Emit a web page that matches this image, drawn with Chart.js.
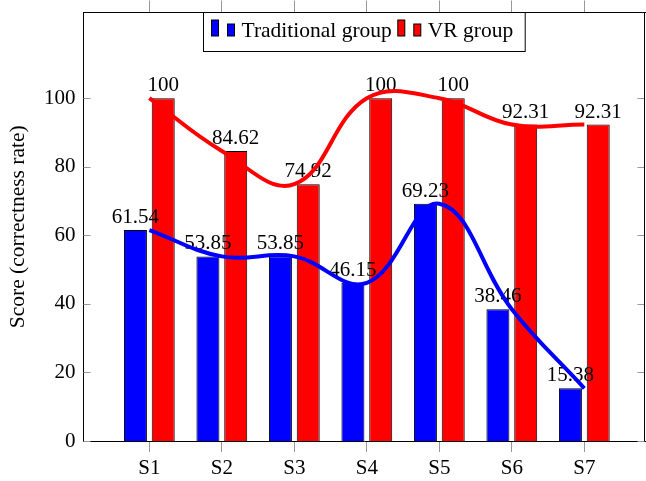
<!DOCTYPE html>
<html>
<head>
<meta charset="utf-8">
<script src="https://cdn.jsdelivr.net/npm/chart.js@4"></script>
<style>
  html, body { margin: 0; padding: 0; background: #fff; }
</style>
</head>
<body>
<canvas id="scoreChart" width="646" height="481"></canvas>
<script>
// data
const subjects = ['S1', 'S2', 'S3', 'S4', 'S5', 'S6', 'S7'];
const traditional = [61.54, 53.85, 53.85, 46.15, 69.23, 38.46, 15.38];
const vrGroup = [100, 84.62, 74.92, 100, 100, 92.31, 92.31];
const yTicks = [0, 20, 40, 60, 80, 100];
const seriesNames = ['Traditional group', 'VR group'];

const BLUE = 'rgb(0,0,255)';
const RED = 'rgb(255,0,0)';
const FONT = '"Liberation Serif", "Times New Roman", serif';
const X_MIN = 0.092, X_MAX = 7.837;

function toPoints(vals) {
    return vals.map((v, i) => ({ x: i + 1, y: v }));
}

function categoryTicks(scale) {
    scale.ticks = subjects.map((s, i) => ({ value: i + 1 }));
}

// fixed axis sizes, no extra label padding
function fixSize(w, h) {
    return s => {
        if (w !== null) s.width = w;
        if (h !== null) s.height = h;
        s.paddingTop = s.paddingBottom = s.paddingLeft = s.paddingRight = 0;
    };
}

// numbers over the bars (drawn before the curves so the curves sit on top)
function drawValueLabels(chart) {
    const ctx = chart.ctx;
    ctx.save();
    ctx.font = '21px ' + FONT;
    ctx.fillStyle = '#000';
    ctx.textAlign = 'center';
    ctx.textBaseline = 'alphabetic';
    [0, 1].forEach(di => {
        const meta = chart.getDatasetMeta(di);
        const vals = chart.data.datasets[di].data;
        meta.data.forEach((bar, j) => {
            ctx.fillText(String(vals[j].y), bar.x, bar.y - 7);
        });
    });
    ctx.restore();
}

// right frame line + inward y ticks on both sides
function drawFrame(chart) {
    const ctx = chart.ctx;
    const area = chart.chartArea;
    const y = chart.scales.y;
    const right = Math.round(chart.scales.x.right) - 0.5;
    ctx.save();
    ctx.strokeStyle = '#999';
    ctx.lineWidth = 1;
    yTicks.forEach(v => {
        const py = Math.round(y.getPixelForValue(v)) + 0.5;
        ctx.beginPath();
        ctx.moveTo(area.left, py);
        ctx.lineTo(area.left + 7, py);
        ctx.moveTo(right - 7, py);
        ctx.lineTo(right, py);
        ctx.stroke();
    });
    ctx.strokeStyle = '#000';
    ctx.beginPath();
    ctx.moveTo(right, area.top);
    ctx.lineTo(right, area.bottom);
    ctx.stroke();
    ctx.restore();
}

function drawLegend(chart) {
    const ctx = chart.ctx;
    const area = chart.chartArea;
    const colors = [BLUE, RED];
    ctx.save();
    ctx.font = '21.5px ' + FONT;
    let total = 8;
    const widths = seriesNames.map(n => ctx.measureText(n).width);
    widths.forEach(w => { total += 7 + 9 + 7 + 7 + w + 6; });
    total += 6;
    const left = Math.round((area.left + area.right) / 2 - total / 2) + 0.5;
    const top = 12.5, bottom = 51.5;
    ctx.fillStyle = '#fff';
    ctx.fillRect(left, top, total, bottom - top);
    ctx.strokeStyle = '#000';
    ctx.lineWidth = 1;
    ctx.strokeRect(left, top, total, bottom - top);

    let x = left + 8;
    seriesNames.forEach((name, i) => {
        ctx.fillStyle = colors[i];
        ctx.fillRect(x, 20, 7, 16);
        ctx.strokeRect(x, 20, 7, 16);
        ctx.fillRect(x + 16, 24, 7, 12);
        ctx.strokeRect(x + 16, 24, 7, 12);
        x += 30;
        ctx.fillStyle = '#000';
        ctx.textAlign = 'left';
        ctx.textBaseline = 'alphabetic';
        ctx.fillText(name, x, 36.5);
        x += widths[i] + 6;
    });
    ctx.restore();
}

const decor = {
    id: 'decor',
    beforeDatasetsDraw(chart) { chart.$labelsDone = false; },
    beforeDatasetDraw(chart, args) {
        if (args.meta.type === 'line' && !chart.$labelsDone) {
            drawValueLabels(chart);
            chart.$labelsDone = true;
        }
    },
    afterDraw(chart) {
        drawFrame(chart);
        drawLegend(chart);
    }
};

const ctx = document.getElementById('scoreChart').getContext('2d');
const chart = new Chart(ctx, {
    type: 'bar',
    data: {
        datasets: [
            {
                type: 'bar', label: seriesNames[0], data: toPoints(traditional),
                backgroundColor: BLUE, borderColor: '#000', borderWidth: 1,
                categoryPercentage: 0.767, barPercentage: 0.827, order: 2
            },
            {
                type: 'bar', label: seriesNames[1], data: toPoints(vrGroup),
                backgroundColor: RED, borderColor: '#000', borderWidth: 1,
                categoryPercentage: 0.767, barPercentage: 0.827, order: 2
            },
            {
                type: 'line', data: toPoints(traditional), borderColor: BLUE,
                borderWidth: 4, tension: 0.4, pointRadius: 0, fill: false, order: 1
            },
            {
                type: 'line', data: toPoints(vrGroup), borderColor: RED,
                borderWidth: 4, tension: 0.4, pointRadius: 0, fill: false, order: 1
            }
        ]
    },
    options: {
        responsive: false,
        animation: false,
        layout: { autoPadding: false, padding: { left: 5, right: 1, top: 0, bottom: 0 } },
        plugins: { legend: { display: false }, tooltip: { enabled: false } },
        scales: {
            x: {
                type: 'linear', position: 'bottom', min: X_MIN, max: X_MAX, offset: false,
                afterBuildTicks: categoryTicks,
                afterFit: fixSize(null, 40),
                ticks: {
                    callback: (v, i) => subjects[i],
                    font: { family: FONT, size: 21 }, color: '#000', padding: 4,
                    maxRotation: 0, autoSkip: false
                },
                grid: { drawOnChartArea: false, tickLength: 11, color: '#999', offset: false },
                border: { display: true, color: '#000', width: 1 }
            },
            xTop: {
                type: 'linear', position: 'top', min: X_MIN, max: X_MAX, offset: false,
                afterBuildTicks: categoryTicks,
                afterFit: fixSize(null, 12.5),
                ticks: { display: false },
                grid: { drawOnChartArea: false, tickLength: 12, color: '#999', offset: false },
                border: { display: true, color: '#000', width: 1 }
            },
            y: {
                min: 0, max: 125,
                afterBuildTicks: s => { s.ticks = yTicks.map(v => ({ value: v })); },
                afterFit: fixSize(78.5, null),
                ticks: { font: { family: FONT, size: 21 }, color: '#000', padding: 8 },
                grid: { display: false, drawTicks: false },
                border: { display: true, color: '#000', width: 1 },
                title: {
                    display: true, text: 'Score (correctness rate)', color: '#000',
                    font: { family: FONT, size: 21.5 }, padding: { top: 0, bottom: 13 }
                }
            }
        }
    },
    plugins: [decor]
});
</script>
</body>
</html>
